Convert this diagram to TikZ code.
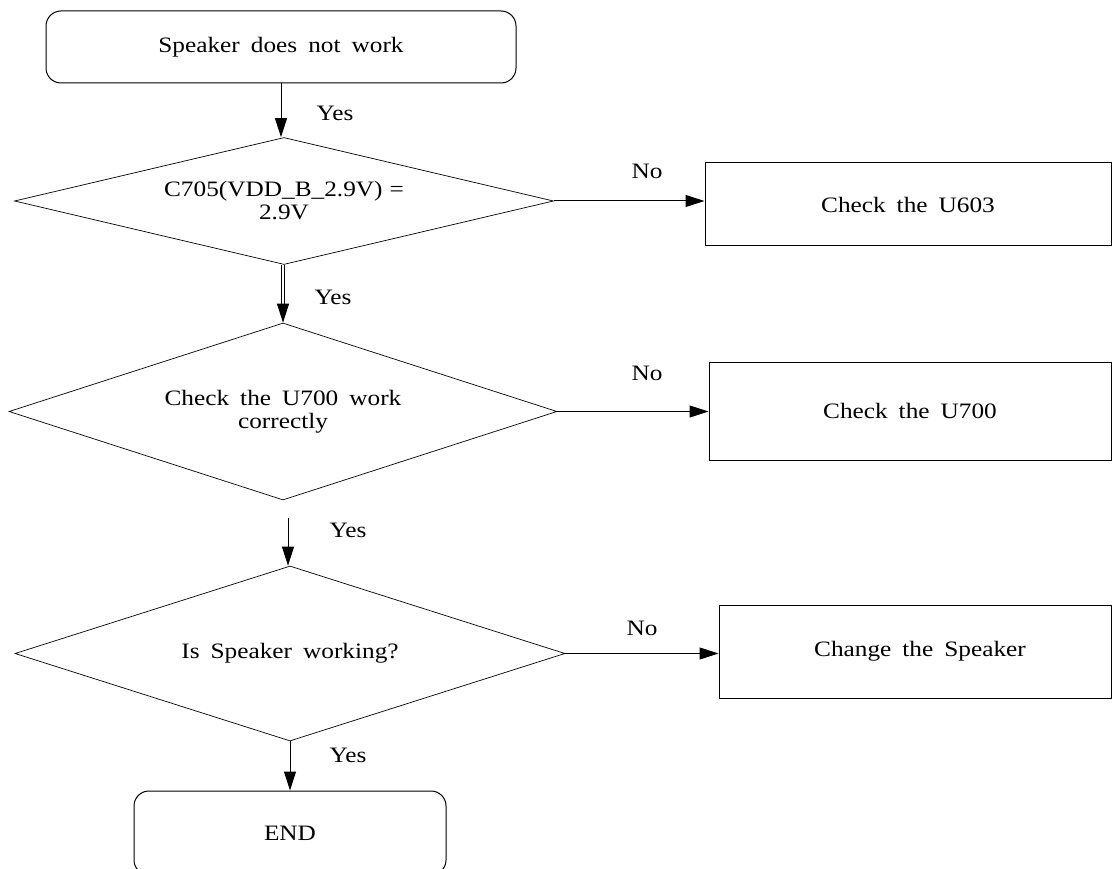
\documentclass[tikz,border=0pt]{standalone}
\usepackage{fontspec}
\setmainfont{Liberation Serif}[FakeStretch=1.15]
\usetikzlibrary{arrows.meta,shapes.geometric}
\newcommand{\myfnt}{\fontsize{22}{23}\selectfont\spaceskip=11pt\relax}
\begin{document}
\begin{tikzpicture}[x=1pt,y=-1pt,
  every node/.style={font=\myfnt},
  term/.style={draw,line width=1pt,rounded corners=15pt,inner sep=0pt},
  proc/.style={draw,line width=1pt,inner sep=0pt},
  dec/.style={draw,diamond,line width=0.7pt,inner sep=0pt,align=center},
  arr/.style={-{Triangle[length=19pt,width=12pt]},line width=1pt},
  lbl/.style={inner sep=0pt}]
\useasboundingbox (0,0) rectangle (1112,869);
\node[term,minimum width=470pt,minimum height=72pt] (s) at (281,47) {Speaker does not work};
\node[dec,shape aspect=4.24,minimum width=539pt,minimum height=127pt] (d1) at (284,201) {C705(VDD\_B\_2.9V)\hspace{7pt}=\\2.9V};
\node[dec,shape aspect=3.1,minimum width=548pt,minimum height=177pt] (d2) at (283,411.5) {Check the U700 work\\correctly};
\node[dec,shape aspect=3.14,minimum width=550pt,minimum height=175pt] (d3) at (290,653.5) {Is Speaker working?};
\node[term,minimum width=312pt,minimum height=84pt] (e) at (290,833) {END};
\node[proc,minimum width=406pt,minimum height=83pt] (b1) at (908,204.5) {Check the U603};
\node[proc,minimum width=402pt,minimum height=98pt] (b2) at (910,411) {Check the U700};
\node[proc,minimum width=392pt,minimum height=93pt] (b3) at (915,651.5) {\hspace{10pt}Change the Speaker};
\coordinate (c3) at (288,518);
\draw[arr] (s.south) -- (s.south |- d1.north);
\draw[arr,double,double distance=2pt,line width=0.8pt] (d2.north |- d1.south) -- (d2.north);
\draw[arr] (c3) -- (c3 |- d3.north);
\draw[arr] (d3.south) -- (d3.south |- e.north);
\draw[arr] (d1.east) -- (d1.east -| b1.west);
\draw[arr] (d2.east) -- (d2.east -| b2.west);
\draw[arr] (d3.east) -- (d3.east -| b3.west);
\node[lbl] (y1) at (335,113) {Yes};
\node[lbl] (y2) at (333,297) {Yes};
\node[lbl] (y3) at (348,530) {Yes};
\node[lbl] (y4) at (348,755) {Yes};
\node[lbl] (n1) at (647,171) {No};
\node[lbl] (n2) at (647,373) {No};
\node[lbl] (n3) at (642,628) {No};
\end{tikzpicture}
\end{document}
